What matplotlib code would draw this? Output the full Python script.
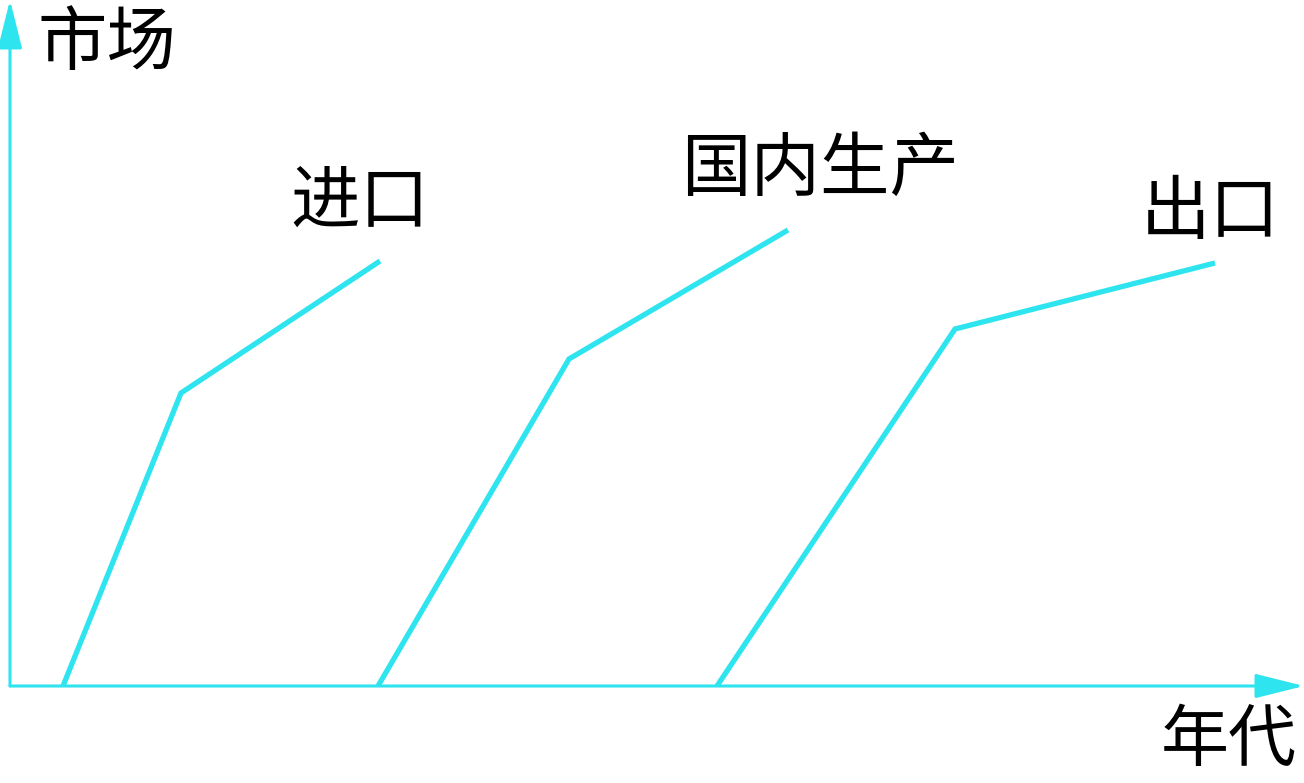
import matplotlib
matplotlib.use("Agg")
import matplotlib.pyplot as plt

plt.rcParams['font.family'] = ['Noto Sans CJK SC', 'DejaVu Sans']

## Data (x = 年代, y = 市场), origin at the axis corner
import_x = [53, 171, 370]
import_y = [0, 293, 425]
domestic_x = [368, 559, 778]
domestic_y = [0, 327, 456]
export_x = [707, 945, 1205]
export_y = [0, 357, 423]
labels = ["进口", "国内生产", "出口"]
label_pos = [(350, 483), (810, 516), (1200, 473)]

cyan = '#2de4ef'

fig = plt.figure(figsize=(13.04, 7.83), dpi=100)
ax = fig.add_axes([0, 0, 1, 1])
ax.set_xlim(-10, 1294)
ax.set_ylim(-97, 686)
ax.axis('off')

# axes with arrows
arrow = dict(arrowstyle="-|>,head_length=3.0,head_width=0.75", color=cyan, lw=2.2, shrinkA=0, shrinkB=0)
ax.annotate("", xy=(0, 686), xytext=(0, 0), arrowprops=arrow)
ax.annotate("", xy=(1294, 0), xytext=(0, 0), arrowprops=arrow)

for xs, ys in [(import_x, import_y), (domestic_x, domestic_y), (export_x, export_y)]:
    ax.plot(xs, ys, color=cyan, lw=3.8, solid_capstyle='butt', solid_joinstyle='miter')

for txt, (x, y) in zip(labels, label_pos):
    ax.text(x, y, txt, fontsize=50, ha='center', va='center', color='black')

ax.text(97, 642, "市场", fontsize=50, ha='center', va='center', color='black')
ax.text(1219, -56, "年代", fontsize=49, ha='center', va='center', color='black')

plt.savefig("out.png", dpi=100)
